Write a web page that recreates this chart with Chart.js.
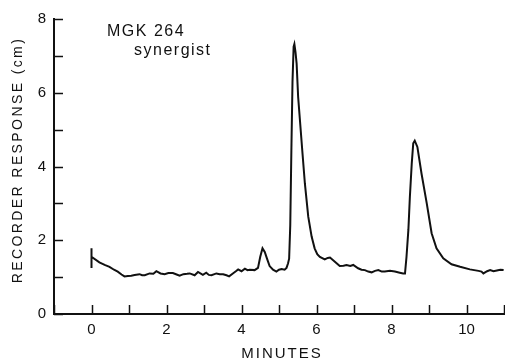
<!DOCTYPE html>
<html>
<head>
<meta charset="utf-8">
<script src="https://cdn.jsdelivr.net/npm/chart.js@4.4.0/dist/chart.umd.min.js"></script>
<style>
    html, body { margin: 0; padding: 0; background: #fff; }
    #wrap { width: 505px; height: 363px; }
</style>
</head>
<body>
<div id="wrap"><canvas id="chrom"></canvas></div>
<script>
// Retention time (minutes) and recorder response (cm)
const minutes = [
    0, 0, 0, 0.21, 0.35, 0.48, 0.60, 0.70, 0.80, 0.88, 0.97, 1.06, 1.15, 1.28, 1.35, 1.42,
    1.55, 1.65, 1.73, 1.84, 1.95, 2.05, 2.17, 2.27, 2.35, 2.45, 2.55, 2.62, 2.75, 2.84, 2.97,
    3.06, 3.13, 3.20, 3.33, 3.42, 3.51, 3.60, 3.67, 3.77, 3.85, 3.91, 4.00, 4.09, 4.16, 4.22,
    4.35, 4.44, 4.50, 4.56, 4.62, 4.68, 4.75, 4.84, 4.93, 5.00, 5.07, 5.15, 5.20, 5.24, 5.27,
    5.30, 5.33, 5.36, 5.39, 5.41, 5.44, 5.47, 5.51, 5.62, 5.69, 5.78, 5.87, 5.95, 6.02, 6.09,
    6.22, 6.30, 6.36, 6.49, 6.62, 6.72, 6.80, 6.90, 6.98, 7.11, 7.20, 7.29, 7.38, 7.47, 7.56,
    7.65, 7.74, 7.82, 7.96, 8.09, 8.22, 8.31, 8.36, 8.40, 8.45, 8.49, 8.54, 8.58, 8.62, 8.69,
    8.80, 8.94, 9.07, 9.20, 9.38, 9.60, 9.83, 10.09, 10.32, 10.40, 10.45, 10.55, 10.63, 10.72,
    10.81, 10.90, 10.99
];
const response = [
    1.25, 1.78, 1.55, 1.40, 1.33, 1.28, 1.20, 1.15, 1.07, 1.02, 1.03, 1.04, 1.06, 1.08, 1.05, 1.05,
    1.10, 1.09, 1.16, 1.10, 1.08, 1.11, 1.11, 1.07, 1.04, 1.08, 1.09, 1.10, 1.05, 1.14, 1.06,
    1.12, 1.06, 1.05, 1.10, 1.08, 1.08, 1.05, 1.02, 1.10, 1.16, 1.21, 1.16, 1.23, 1.19, 1.20,
    1.19, 1.25, 1.55, 1.78, 1.68, 1.50, 1.30, 1.20, 1.15, 1.20, 1.22, 1.20, 1.25, 1.37, 1.50,
    2.40, 4.44, 6.30, 7.25, 7.32, 7.10, 6.79, 5.89, 4.44, 3.54, 2.64, 2.10, 1.78, 1.62, 1.55,
    1.48, 1.52, 1.53, 1.42, 1.30, 1.31, 1.33, 1.30, 1.33, 1.24, 1.20, 1.19, 1.15, 1.13, 1.17,
    1.19, 1.15, 1.15, 1.17, 1.15, 1.12, 1.10, 1.10, 1.55, 2.28, 3.18, 4.08, 4.63, 4.70, 4.53,
    3.81, 3.00, 2.19, 1.78, 1.51, 1.35, 1.28, 1.21, 1.17, 1.15, 1.10, 1.16, 1.19, 1.16,
    1.18, 1.20, 1.19
];

const xLabels = [0, 2, 4, 6, 8, 10];
const yLabels = [0, 2, 4, 6, 8];
const noteLines = ['MGK 264', 'synergist'];
const xTitle = 'MINUTES';
const yTitle = 'RECORDER RESPONSE (cm)';

const FONT = '"Liberation Sans", Arial, sans-serif';
const INK = '#111';

// inward tick marks, axis titles and the label in the corner
const decorations = {
    id: 'decorations',
    afterDraw(chart) {
        const ctx = chart.ctx;
        const area = chart.chartArea;
        const xs = chart.scales.x;
        const ys = chart.scales.y;
        ctx.save();
        ctx.strokeStyle = INK;
        ctx.lineWidth = 1.5;
        ctx.beginPath();
        ys.ticks.forEach(t => {
            const y = Math.round(ys.getPixelForValue(t.value)) + 0.5;
            ctx.moveTo(area.left, y);
            ctx.lineTo(area.left + 9, y);
        });
        xs.ticks.forEach(t => {
            const x = Math.round(xs.getPixelForValue(t.value)) + 0.5;
            ctx.moveTo(x, area.bottom);
            ctx.lineTo(x, area.bottom - 9);
        });
        ctx.stroke();

        ctx.fillStyle = INK;
        ctx.textBaseline = 'middle';
        ctx.textAlign = 'center';
        ctx.font = '15px ' + FONT;
        ctx.letterSpacing = '2px';
        ctx.fillText(xTitle, (area.left + area.right) / 2 + 3, 354);

        ctx.save();
        ctx.translate(18, 160);
        ctx.rotate(-Math.PI / 2);
        ctx.font = '14px ' + FONT;
        ctx.letterSpacing = '2.4px';
        ctx.fillText(yTitle, 0, 0);
        ctx.restore();

        ctx.textAlign = 'left';
        ctx.textBaseline = 'alphabetic';
        ctx.font = '16px ' + FONT;
        ctx.letterSpacing = '1.5px';
        ctx.fillText(noteLines[0], 107, 36);
        ctx.fillText(noteLines[1], 134, 55);
        ctx.restore();
    }
};

const ctx = document.getElementById('chrom').getContext('2d');
new Chart(ctx, {
    type: 'scatter',
    data: {
        datasets: [{
            data: minutes.map((m, i) => ({ x: m, y: response[i] })),
            showLine: true,
            borderColor: INK,
            borderWidth: 2,
            pointRadius: 0,
            tension: 0
        }]
    },
    options: {
        responsive: true,
        maintainAspectRatio: false,
        animation: false,
        layout: { padding: { top: 19, right: 1, left: 0, bottom: 0 } },
        plugins: { legend: { display: false }, tooltip: { enabled: false } },
        scales: {
            x: {
                type: 'linear',
                min: -1,
                max: 11,
                afterFit: s => { s.height = 49; s.paddingLeft = 0; s.paddingRight = 0; },
                border: { display: true, color: INK, width: 2 },
                grid: { drawOnChartArea: false, drawTicks: false },
                ticks: {
                    stepSize: 1,
                    color: INK,
                    padding: 7,
                    font: { family: FONT, size: 15 },
                    callback: v => xLabels.includes(v) ? String(v) : ''
                }
            },
            y: {
                type: 'linear',
                min: 0,
                max: 8,
                afterFit: s => { s.width = 54; s.paddingTop = 0; s.paddingBottom = 0; },
                border: { display: true, color: INK, width: 2 },
                grid: { drawOnChartArea: false, drawTicks: false },
                ticks: {
                    stepSize: 1,
                    color: INK,
                    padding: 8,
                    font: { family: FONT, size: 15 },
                    callback: v => yLabels.includes(v) ? String(v) : ''
                }
            }
        }
    },
    plugins: [decorations]
});
</script>
</body>
</html>
